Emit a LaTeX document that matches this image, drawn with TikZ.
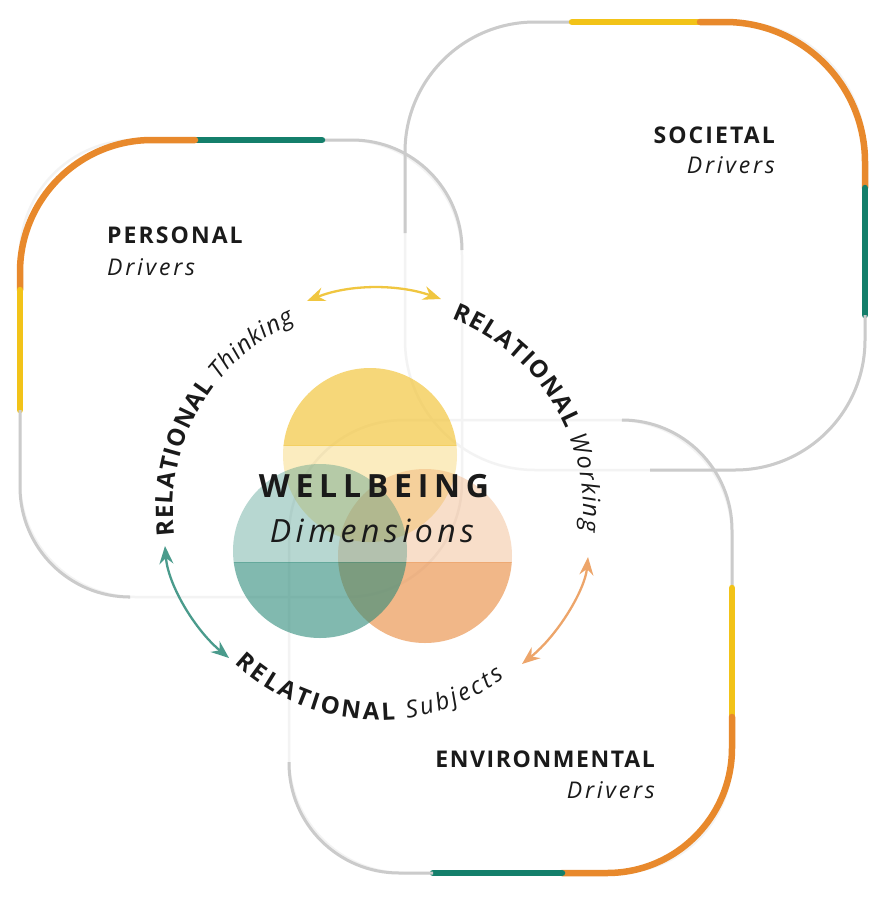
\documentclass[tikz,border=0pt]{standalone}
\usepackage{fontspec}
\setmainfont{Open Sans}
\newfontfamily\labfont[LetterSpace=9]{Open Sans}
\newfontfamily\envfont[LetterSpace=7]{Open Sans}
\newfontfamily\subfont[LetterSpace=12]{Open Sans}
\newfontfamily\wbfont[LetterSpace=18]{Open Sans}
\newfontfamily\dimfont[LetterSpace=14]{Open Sans}
\usetikzlibrary{arrows.meta,decorations.text}
\definecolor{gline}{HTML}{CBCBCB}
\definecolor{ghost}{HTML}{F3F3F3}
\definecolor{oline}{HTML}{E8892C}
\definecolor{tline}{HTML}{147F6B}
\definecolor{yline}{HTML}{F2C318}
\definecolor{ybase}{HTML}{F2C12E}
\definecolor{tbase}{HTML}{2E8B7A}
\definecolor{obase}{HTML}{E8873A}
\definecolor{txt}{HTML}{1A1A1A}
\definecolor{yarr}{HTML}{F0C640}
\definecolor{tarr}{HTML}{4A9B8C}
\definecolor{oarr}{HTML}{EDA56A}
\newcommand\arcb{\fontsize{24}{28}\selectfont\bfseries\color{txt}}
\newcommand\arci{\fontsize{24}{28}\selectfont\itshape\color{txt}}
\tikzset{
  ghostline/.style={draw=ghost, line width=2.5pt},
  grayseg/.style={draw=gline, line width=3pt},
  colseg/.style={line width=6.5pt, line cap=round},
  lab/.style={inner sep=0pt, text=txt, font=\labfont\fontsize{23}{27}\selectfont\bfseries},
  drv/.style={inner sep=0pt, text=txt, font=\subfont\fontsize{23}{27}\selectfont\itshape},
  arr/.style={line width=2.3pt, arrows={Stealth[length=18pt,width=14pt,inset=6pt]-Stealth[length=18pt,width=14pt,inset=6pt]}},
  arctext/.style={decorate, decoration={text along path, text align={fit to path}, text={#1}}}
}
\begin{document}
\begin{tikzpicture}[x=1pt,y=-1pt]
\fill[white] (0,0) rectangle (886,897);
\useasboundingbox (0,0) rectangle (886,897);
% ghost outlines
\draw[ghostline, rounded corners=115] (20,140) rectangle (462,597);
\draw[ghostline, rounded corners=130] (405,22) rectangle (865,470);
\draw[ghostline, rounded corners=115] (289,420) rectangle (732,873);
% personal box
\draw[grayseg, rounded corners=110] (462,250) |- (322,140);
\draw[colseg, tline] (322,140) -- (195,140);
\draw[colseg, oline, rounded corners=132] (195,140) -| (20,290);
\draw[colseg, yline] (20,290) -- (20,410);
\draw[grayseg, rounded corners=110] (20,410) |- (128,597);
% societal box
\draw[grayseg, rounded corners=130] (405,233) |- (572,22);
\draw[colseg, yline] (572,22) -- (700,22);
\draw[colseg, oline, rounded corners=140] (700,22) -| (865,188);
\draw[colseg, tline] (865,188) -- (865,315);
\draw[grayseg, rounded corners=130] (865,315) |- (650,470);
% environmental box
\draw[grayseg, rounded corners=110] (624,420) -| (732,588);
\draw[colseg, yline] (732,588) -- (732,717);
\draw[colseg, oline, rounded corners=125] (732,717) |- (562,873);
\draw[colseg, tline] (562,873) -- (433,873);
\draw[grayseg, rounded corners=110] (433,873) -| (289,762);
% circles
\coordinate (cy) at (370,455);
\coordinate (ct) at (320,551);
\coordinate (co) at (425,556);
\begin{scope}
  \clip (270,350) rectangle (470,445);
  \fill[ybase, fill opacity=0.64] (cy) circle[radius=87];
\end{scope}
\begin{scope}
  \clip (270,445) rectangle (470,560);
  \fill[ybase, fill opacity=0.3] (cy) circle[radius=87];
\end{scope}
\begin{scope}
  \clip (330,460) rectangle (520,562);
  \fill[obase, fill opacity=0.27] (co) circle[radius=87];
\end{scope}
\begin{scope}
  \clip (330,562) rectangle (520,650);
  \fill[obase, fill opacity=0.6] (co) circle[radius=87];
\end{scope}
\begin{scope}
  \clip (225,460) rectangle (415,562);
  \fill[tbase, fill opacity=0.34] (ct) circle[radius=87];
\end{scope}
\begin{scope}
  \clip (225,562) rectangle (415,650);
  \fill[tbase, fill opacity=0.6] (ct) circle[radius=87];
\end{scope}
% centre title
\node[inner sep=0pt, anchor=base, text=txt, font=\wbfont\fontsize{32}{36}\selectfont\bfseries] (wb) at (374,497) {WELLBEING};
\node[inner sep=0pt, anchor=base, text=txt, font=\dimfont\fontsize{32}{36}\selectfont\itshape] (dim) at (372,542) {Dimensions};
% ring texts
\coordinate (rc) at (378,510);
\path[arctext={|\arcb|RELATIONAL |\arci|Thinking}] ([shift={(-187:205)}]rc) arc[start angle=-187, end angle=-114, radius=205];
\path[arctext={|\arcb|RELATIONAL |\arci|Working}] ([shift={(-69:205)}]rc) arc[start angle=-69, end angle=6, radius=205];
\path[arctext={|\arcb|RELATIONAL |\arci|Subjects}] ([shift={(-227:210)}]rc) arc[start angle=-227, end angle=-307, radius=210];
% arrows
\coordinate (ya) at (307,301);
\coordinate (yb) at (441,299);
\draw[arr, yarr] (ya) .. controls (350,284) and (398,284) .. (yb);
\coordinate (ta) at (165,546);
\coordinate (tb) at (229,658);
\draw[arr, tarr] (ta) .. controls (168,585) and (195,630) .. (tb);
\coordinate (oa) at (588,557);
\coordinate (ob) at (522,664);
\draw[arr, oarr] (oa) .. controls (585,590) and (558,635) .. (ob);
% driver labels
\node[lab, anchor=base west] (pers) at (107,243) {PERSONAL};
\node[drv, anchor=base west] (persd) at (107,275) {Drivers};
\node[lab, anchor=base east] (soc) at (775,143) {SOCIETAL};
\node[drv, anchor=base east] (socd) at (775,173) {Drivers};
\node[lab, font=\envfont\fontsize{23}{27}\selectfont\bfseries, anchor=base east] (env) at (655,767) {ENVIRONMENTAL};
\node[drv, anchor=base east] (envd) at (655,798) {Drivers};
\end{tikzpicture}
\end{document}
